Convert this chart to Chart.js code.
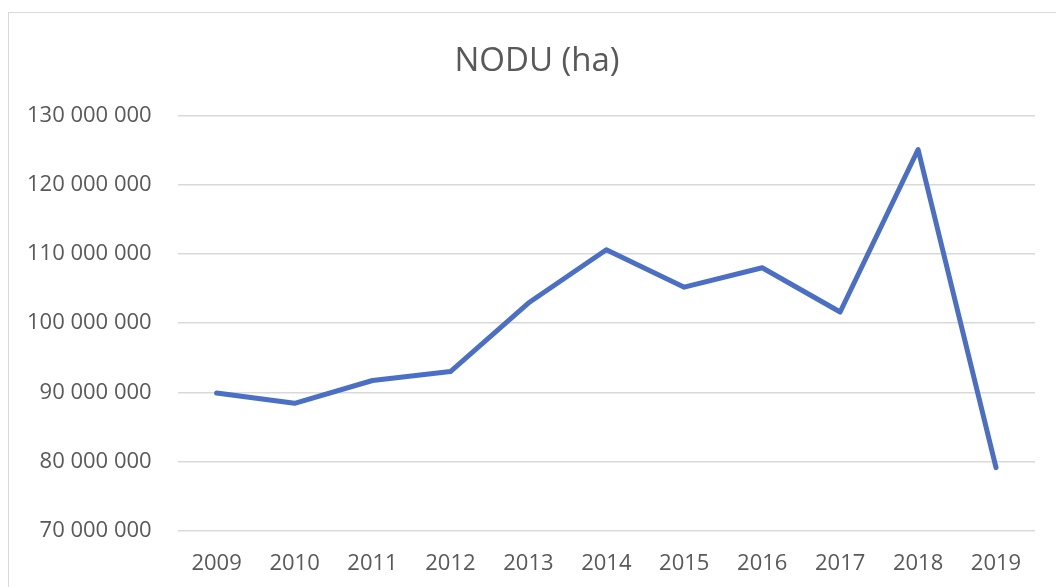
<!DOCTYPE html>
<html>
<head>
<meta charset="utf-8">
<script src="https://cdn.jsdelivr.net/npm/chart.js@4"></script>
<style>
  html, body { margin: 0; padding: 0; background: #fff; overflow: hidden; }
  #frame { position: absolute; left: 8px; top: 12px; width: 1100px; height: 640px;
           border: 1.5px solid #d9d9d9; box-sizing: border-box; }
  #wrap { position: absolute; left: 0; top: 0; width: 1056px; height: 597px; }
</style>
</head>
<body>
<div id="frame"></div>
<div id="wrap"><canvas id="canvas1"></canvas></div>
<script>
// NODU values in hectares
const years = ['2009', '2010', '2011', '2012', '2013', '2014', '2015', '2016', '2017', '2018', '2019'];
const nodu = [89900000, 88400000, 91700000, 93000000, 102900000, 110600000, 105200000, 108000000, 101600000, 125100000, 79100000];
const yTicks = [70000000, 80000000, 90000000, 100000000, 110000000, 120000000, 130000000];

const grey = '#595959';

function formatSpaces(v) {
  return String(v).replace(/\B(?=(\d{3})+(?!\d))/g, ' ');
}

// the title in the original sits a bit right of the canvas centre
const shiftTitle = {
  id: 'shiftTitle',
  afterLayout(chart) {
    const t = chart.titleBlock;
    if (t) { t.left += 19; t.right += 19; }
  }
};

const chart = new Chart(document.getElementById('canvas1'), {
  type: 'line',
  data: {
    labels: years,
    datasets: [{
      label: 'NODU (ha)',
      data: nodu,
      borderColor: '#4A6FC4',
      backgroundColor: '#4A6FC4',
      borderWidth: 5,
      borderCapStyle: 'round',
      borderJoinStyle: 'round',
      pointRadius: 0,
      tension: 0,
      fill: false
    }]
  },
  options: {
    responsive: true,
    maintainAspectRatio: false,
    animation: false,
    layout: { padding: { left: 1, right: 21, top: 0, bottom: 0 } },
    plugins: {
      legend: { display: false },
      tooltip: { enabled: false },
      title: {
        display: true,
        text: 'NODU (ha)',
        color: grey,
        font: { family: 'Open Sans', size: 33, weight: 'normal' },
        padding: { top: 42, bottom: 34 }
      }
    },
    scales: {
      x: {
        offset: true,
        grid: { display: false, drawTicks: false },
        border: { display: false },
        ticks: {
          color: grey,
          font: { family: 'Open Sans', size: 22 },
          padding: 20,
          maxRotation: 0
        }
      },
      y: {
        min: 70000000,
        max: 130000000,
        afterBuildTicks: (axis) => { axis.ticks = yTicks.map(v => ({ value: v })); },
        grid: { color: '#d9d9d9', lineWidth: 1.5, drawTicks: false },
        border: { display: false },
        ticks: {
          color: grey,
          font: { family: 'Open Sans', size: 22 },
          padding: 26,
          callback: (v) => formatSpaces(v)
        }
      }
    }
  },
  plugins: [shiftTitle]
});
</script>
</body>
</html>
